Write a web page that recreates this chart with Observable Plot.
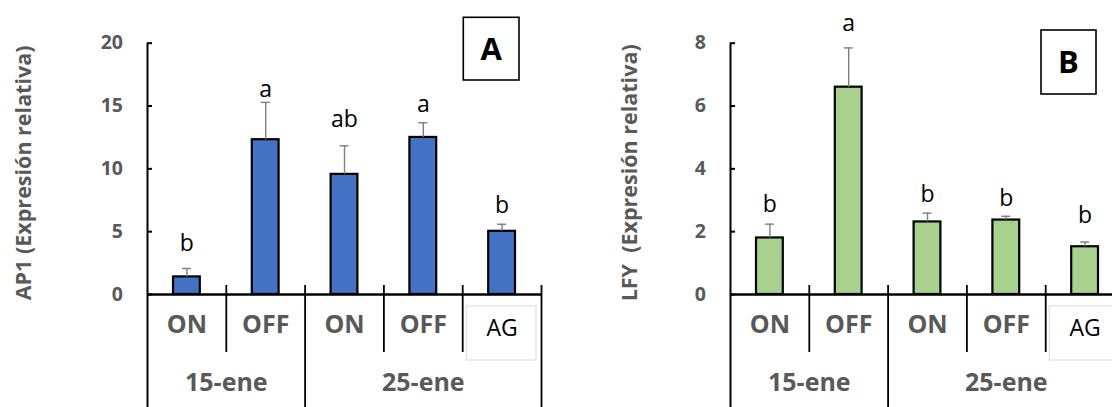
<!DOCTYPE html>
<html>
<head>
<meta charset="utf-8">
<script src="https://cdn.jsdelivr.net/npm/d3@7"></script>
<script src="https://cdn.jsdelivr.net/npm/@observablehq/plot@0.6"></script>
<style>
  body { margin: 0; background: #fff; }
  #fig { position: relative; width: 1112px; height: 407px; overflow: hidden; background: #fff; }
  #fig > div { position: absolute; top: 0; width: 583px; height: 407px; }
  #fig svg { max-width: none !important; }
</style>
</head>
<body>
<div id="fig"><div id="pa" style="left:0"></div><div id="pb" style="left:583px"></div></div>
<script>
// Treatments (lower axis row) and sampling dates (upper axis row)
const treatments = ["ON", "OFF", "ON", "OFF", "AG"];
const dates = ["15-ene", "25-ene"];
const dateSpans = [[0, 2], [2, 5]];

// AP1 relative expression: mean, standard error, significance letters and letter height
const ap1Mean = [1.4, 12.32, 9.56, 12.5, 5.03];
const ap1Se = [0.67, 2.97, 2.27, 1.17, 0.56];
const ap1Letters = ["b", "a", "ab", "a", "b"];
const ap1LetterAt = [3.5, 15.7, 13.3, 14.55, 6.5];
const ap1Ticks = [0, 5, 10, 15, 20];

// LFY relative expression
const lfyMean = [1.8, 6.6, 2.31, 2.37, 1.52];
const lfySe = [0.44, 1.25, 0.28, 0.12, 0.15];
const lfyLetters = ["b", "a", "b", "b", "b"];
const lfyLetterAt = [2.62, 8.38, 2.94, 2.81, 2.28];
const lfyTicks = [0, 2, 4, 6, 8];

const gray = "#595959";

function panel({mean, se, letters, letterAt, ticks, fill, title, titleX, tag, tagBox}) {
  const rows = mean.map((v, i) => ({
    i, mid: i + 0.5, v, top: v + se[i], letter: letters[i], at: letterAt[i], label: treatments[i]
  }));
  const W = 583, H = 407, mL = 147, mR = 42, mT = 42.7, mB = 113;
  const yMax = ticks[ticks.length - 1];
  const groupEdges = dateSpans.map(s => s[1]);
  const innerEdges = d3.range(1, treatments.length).filter(k => !groupEdges.includes(k));
  const agIndex = treatments.indexOf("AG");

  return Plot.plot({
    width: W, height: H,
    marginLeft: mL, marginRight: mR, marginTop: mT, marginBottom: mB,
    x: {domain: [0, treatments.length], axis: null},
    y: {domain: [0, yMax], axis: null},
    style: {fontFamily: "'Open Sans', sans-serif", background: "transparent", overflow: "visible", maxWidth: "none"},
    marks: [
      // light cell around the AG label
      Plot.rect([agIndex], {x1: d => d, x2: d => d + 1, y1: 0, y2: 0,
        insetLeft: 4, insetRight: 5, insetTop: 12, insetBottom: -66,
        fill: "none", stroke: "#d9d9d9", strokeWidth: 1}),
      // bars
      Plot.rectY(rows, {x1: "i", x2: d => d.i + 1, y: "v", fill, stroke: "#000", strokeWidth: 2.2,
        insetLeft: 26, insetRight: 26}),
      // error bars (upper half)
      Plot.ruleX(rows, {x: "mid", y1: "v", y2: "top", stroke: "#7f7f7f", strokeWidth: 1.4}),
      Plot.ruleY(rows, {y: "top", x1: "mid", x2: "mid", insetLeft: -4.5, insetRight: -4.5,
        stroke: "#7f7f7f", strokeWidth: 1.4}),
      // value axis
      Plot.ruleX([0], {y1: yMax, y2: 0, insetBottom: -mB, stroke: "#000", strokeWidth: 2}),
      Plot.ruleY(ticks, {x1: 0, x2: 0, insetRight: -5, stroke: "#000", strokeWidth: 2}),
      Plot.text(ticks, {x: 0, y: d => d, text: d => String(d), textAnchor: "end", dx: -24.5,
        fill: gray, fontWeight: "bold", fontSize: 19.5}),
      // category axis
      Plot.ruleY([0], {stroke: "#000", strokeWidth: 2.7}),
      Plot.ruleX(innerEdges, {x: d => d, y1: 0, y2: 0, insetTop: -9, insetBottom: -58,
        stroke: "#000", strokeWidth: 1.8}),
      Plot.ruleX(groupEdges, {x: d => d, y1: 0, y2: 0, insetTop: -9, insetBottom: -mB,
        stroke: "#000", strokeWidth: 1.8}),
      Plot.text(rows.filter(d => d.label !== "AG"), {x: "mid", text: "label", frameAnchor: "bottom",
        dy: 38, fill: gray, fontWeight: "bold", fontSize: 25}),
      Plot.text(rows.filter(d => d.label === "AG"), {x: "mid", text: "label", frameAnchor: "bottom",
        dy: 41, fill: "#000", fontSize: 23}),
      Plot.text(dateSpans.map((s, k) => ({c: (s[0] + s[1]) / 2, t: dates[k]})), {x: "c", text: "t",
        frameAnchor: "bottom", dy: 96, fill: gray, fontWeight: "bold", fontSize: 25}),
      // significance letters
      Plot.text(rows, {x: "mid", y: "at", text: "letter", lineAnchor: "bottom", fontSize: 23, fill: "#000"}),
      // value axis title
      Plot.text([title], {text: d => d, frameAnchor: "left", textAnchor: "middle", rotate: -90,
        dx: titleX - mL, dy: 4, fill: gray, fontWeight: "bold", fontSize: 21.5}),
      // panel tag in a box
      (index, scales, values, dims) => {
        const g = d3.create("svg:g");
        const right = dims.width - dims.marginRight - tagBox.right;
        g.append("rect")
          .attr("x", right - tagBox.w).attr("y", tagBox.top)
          .attr("width", tagBox.w).attr("height", tagBox.h)
          .attr("fill", "#fff").attr("stroke", "#000").attr("stroke-width", 1.6);
        g.append("text")
          .attr("x", right - tagBox.w / 2).attr("y", tagBox.top + tagBox.h / 2)
          .attr("dy", "0.36em").attr("text-anchor", "middle")
          .attr("font-weight", "bold").attr("font-size", 31).attr("fill", "#000")
          .text(tag);
        return g.node();
      }
    ]
  });
}

document.getElementById("pa").append(panel({
  mean: ap1Mean, se: ap1Se, letters: ap1Letters, letterAt: ap1LetterAt, ticks: ap1Ticks,
  fill: "#4472c4", title: "AP1 (Expresión relativa)", titleX: 24,
  tag: "A", tagBox: {right: 22, w: 55.7, top: 17.3, h: 62.7}
}));
document.getElementById("pb").append(panel({
  mean: lfyMean, se: lfySe, letters: lfyLetters, letterAt: lfyLetterAt, ticks: lfyTicks,
  fill: "#a9d18e", title: "LFY\u00a0 (Expresión relativa)", titleX: 46.5,
  tag: "B", tagBox: {right: 28, w: 55, top: 30, h: 64}
}));
</script>
</body>
</html>
